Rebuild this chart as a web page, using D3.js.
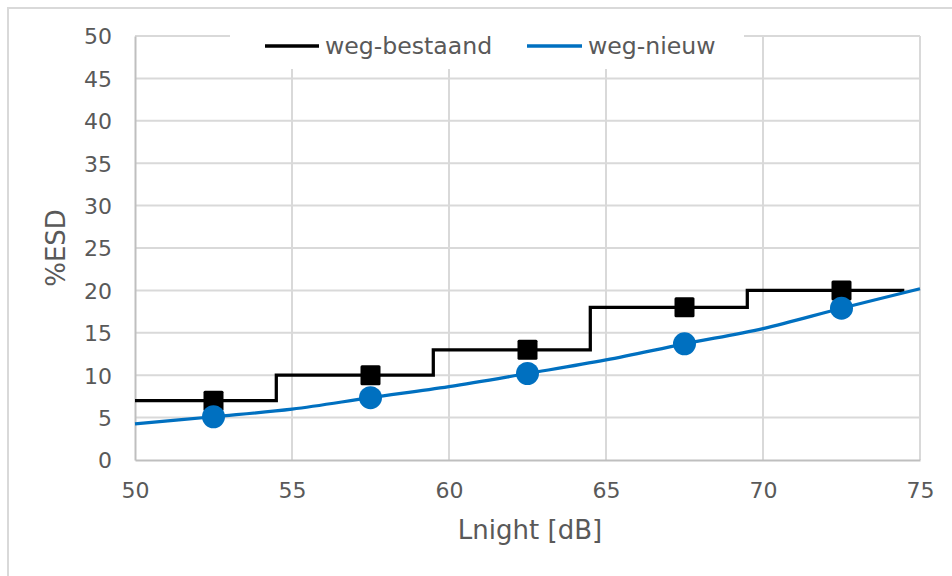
<!DOCTYPE html>
<html>
<head>
<meta charset="utf-8">
<script src="https://cdn.jsdelivr.net/npm/d3@7"></script>
<style>
  html, body { margin: 0; padding: 0; background: #fff; }
  svg { display: block; font-family: "DejaVu Sans", Verdana, sans-serif; }
</style>
</head>
<body>
<svg id="chart" width="952" height="576"></svg>
<script>
// ---- data ----
const seriesNames = ["weg-bestaand", "weg-nieuw"];
const markerX = [52.5, 57.5, 62.5, 67.5, 72.5];
const bestaandValues = [7, 10, 13, 18, 20];
const nieuwValues = [5.1, 7.35, 10.2, 13.7, 17.9];
const stepX = [50, 54.5, 59.5, 64.5, 69.5, 74.5];
const stepY = [7, 10, 13, 18, 20, 20];
const curveX = [50, 52.5, 55, 57.5, 60, 62.5, 65, 67.5, 70, 72.5, 75];
const curveY = [4.25, 5.1, 6.0, 7.35, 8.65, 10.2, 11.8, 13.7, 15.5, 17.9, 20.2];
const xTicks = [50, 55, 60, 65, 70, 75];
const yTicks = [0, 5, 10, 15, 20, 25, 30, 35, 40, 45, 50];

(function () {
// ---- layout ----
const svg = d3.select("#chart");
const pLeft = 135, pRight = 920, pTop = 36, pBottom = 460;
const x = d3.scaleLinear().domain([50, 75]).range([pLeft, pRight]);
const y = d3.scaleLinear().domain([0, 50]).range([pBottom, pTop]);
const gridColor = "#d9d9d9";
const textColor = "#595959";
const blue = "#0070c0";

// outer chart border
svg.append("rect").attr("x", 8).attr("y", 8).attr("width", 970).attr("height", 620)
  .attr("fill", "#fff").attr("stroke", gridColor).attr("stroke-width", 2);

// gridlines
const grid = svg.append("g");
grid.selectAll("line.h").data(yTicks.filter(d => d > 0)).enter().append("line")
  .attr("x1", pLeft).attr("x2", pRight)
  .attr("y1", d => y(d)).attr("y2", d => y(d))
  .attr("stroke", gridColor).attr("stroke-width", 2);
grid.selectAll("line.v").data(xTicks.filter(d => d > 50)).enter().append("line")
  .attr("x1", d => x(d)).attr("x2", d => x(d))
  .attr("y1", pTop).attr("y2", pBottom)
  .attr("stroke", gridColor).attr("stroke-width", 2);

// axes
const xAxis = d3.axisBottom(x).tickValues(xTicks).tickSize(0).tickPadding(22).tickFormat(d3.format("d"));
const yAxis = d3.axisLeft(y).tickValues(yTicks).tickSize(0).tickPadding(23).tickFormat(d3.format("d"));
const gx = svg.append("g").attr("transform", `translate(0,${pBottom})`).call(xAxis);
const gy = svg.append("g").attr("transform", `translate(${pLeft},0)`).call(yAxis);
[gx, gy].forEach(g => {
  g.select(".domain").attr("stroke", "#bfbfbf").attr("stroke-width", 2);
  g.selectAll("text").attr("fill", textColor).style("font-size", "22px")
    .style("font-family", "'DejaVu Sans', Verdana, sans-serif");
});
gy.selectAll("text").attr("dy", "0.36em");

// axis titles
svg.append("text").attr("x", 530).attr("y", 539).attr("text-anchor", "middle")
  .attr("fill", textColor).style("font-size", "26px").text("Lnight [dB]");
svg.append("text").attr("transform", "translate(65,248) rotate(-90)").attr("text-anchor", "middle")
  .attr("fill", textColor).style("font-size", "26px").text("%ESD");

// legend (white background covers gridlines)
svg.append("rect").attr("x", 230).attr("y", 22).attr("width", 514).attr("height", 47).attr("fill", "#fff");
const legend = svg.append("g");
const legendItems = [
  {name: seriesNames[0], color: "#000", x0: 265, x1: 319, tx: 325},
  {name: seriesNames[1], color: blue, x0: 527, x1: 582, tx: 588}
];
legendItems.forEach(it => {
  legend.append("line").attr("x1", it.x0).attr("x2", it.x1).attr("y1", 46).attr("y2", 46)
    .attr("stroke", it.color).attr("stroke-width", 3.5);
  legend.append("text").attr("x", it.tx).attr("y", 54).attr("fill", textColor)
    .style("font-size", "23.6px").text(it.name);
});

// series 1: step line
const stepPts = stepX.map((d, i) => [d, stepY[i]]);
svg.append("path").datum(stepPts)
  .attr("d", d3.line().x(d => x(d[0])).y(d => y(d[1])).curve(d3.curveStepAfter))
  .attr("fill", "none").attr("stroke", "#000").attr("stroke-width", 3.25);
const sq = 20;
svg.append("g").selectAll("rect").data(markerX.map((d, i) => [d, bestaandValues[i]])).enter()
  .append("rect")
  .attr("x", d => x(d[0]) - sq / 2).attr("y", d => y(d[1]) - sq / 2)
  .attr("width", sq).attr("height", sq).attr("rx", 1.5)
  .attr("fill", "#000");

// series 2: smooth line
const curvePts = curveX.map((d, i) => [d, curveY[i]]);
svg.append("path").datum(curvePts)
  .attr("d", d3.line().x(d => x(d[0])).y(d => y(d[1])).curve(d3.curveCatmullRom.alpha(0.5)))
  .attr("fill", "none").attr("stroke", blue).attr("stroke-width", 3.25);
svg.append("g").selectAll("circle").data(markerX.map((d, i) => [d, nieuwValues[i]])).enter()
  .append("circle")
  .attr("cx", d => x(d[0])).attr("cy", d => y(d[1])).attr("r", 11.5)
  .attr("fill", blue);
})();
</script>
</body>
</html>
